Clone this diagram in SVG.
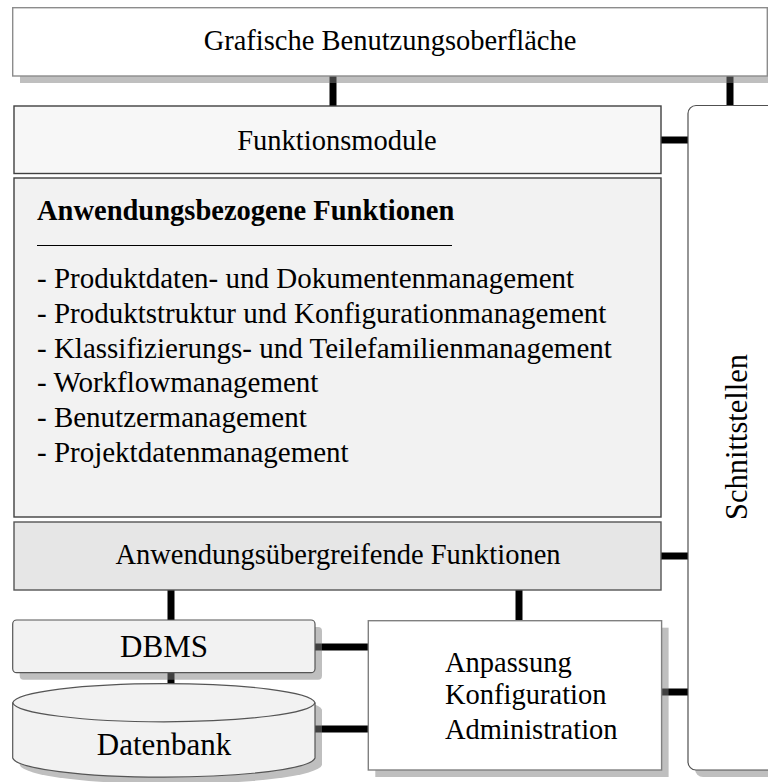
<svg xmlns="http://www.w3.org/2000/svg" width="768" height="782" viewBox="0 0 768 782">
  <style>
    text { font-family: "Liberation Serif", "Times New Roman", serif; font-size: 28.5px; fill: #000; }
    .c { text-anchor: middle; }
    .big { font-size: 31px; }
    .item { font-size: 29px; }
    .bold { font-weight: bold; }
    .shadow { fill: #808080; fill-opacity: 0.5; stroke: none; }
    .conn { stroke: #000; stroke-width: 7; fill: none; }
  </style>

  <rect x="0" y="0" width="768" height="782" fill="#ffffff"/>

  <!-- connectors (drawn first, shadows overlay them) -->
  <g id="connectors">
    <line class="conn" x1="333" y1="76" x2="333" y2="106"/>
    <line class="conn" x1="730" y1="76" x2="730" y2="106"/>
    <line class="conn" x1="661" y1="140" x2="688" y2="140"/>
    <line class="conn" x1="661" y1="556" x2="688" y2="556"/>
    <line class="conn" x1="171" y1="590" x2="171" y2="620"/>
    <line class="conn" x1="171" y1="672" x2="171" y2="684"/>
    <line class="conn" x1="519" y1="590" x2="519" y2="621"/>
    <line class="conn" x1="315" y1="647" x2="368" y2="647"/>
    <line class="conn" x1="315" y1="729" x2="368" y2="729"/>
    <line class="conn" x1="661" y1="692" x2="688" y2="692"/>
  </g>

  <!-- top layer: GUI -->
  <g id="gui">
    <rect class="shadow" x="20" y="76" width="760" height="7"/>
    <rect x="12.7" y="7.7" width="754.6" height="68.3" fill="#ffffff" stroke="#8c8c8c" stroke-width="1.4"/>
    <text class="c" x="390" y="50">Grafische Benutzungsoberfläche</text>
  </g>

  <!-- interfaces column -->
  <g id="schnittstellen">
    <rect class="shadow" x="695" y="112.5" width="100" height="664.5" rx="8"/>
    <rect x="688" y="105.5" width="100" height="664.5" rx="8" fill="#ffffff" stroke="#505050" stroke-width="1.2"/>
    <text class="c" style="font-size:30.5px" transform="translate(747,437) rotate(-90)">Schnittstellen</text>
  </g>

  <!-- function modules -->
  <g id="funktionsmodule">
    <rect x="14" y="106" width="647" height="67.5" fill="#f7f7f7" stroke="#404040" stroke-width="1.4"/>
    <text class="c" x="337" y="150">Funktionsmodule</text>
  </g>

  <g id="anwendungsbezogen">
    <rect x="14" y="178" width="647" height="339" fill="#f2f2f2" stroke="#404040" stroke-width="1.4"/>
    <text class="bold" x="37" y="220">Anwendungsbezogene Funktionen</text>
    <line x1="37" y1="245.5" x2="452" y2="245.5" stroke="#000" stroke-width="1"/>
    <text class="item" x="37" y="288">- Produktdaten- und Dokumentenmanagement</text>
    <text class="item" x="37" y="323">- Produktstruktur und Konfigurationmanagement</text>
    <text class="item" x="37" y="358">- Klassifizierungs- und Teilefamilienmanagement</text>
    <text class="item" x="37" y="392">- Workflowmanagement</text>
    <text class="item" x="37" y="427">- Benutzermanagement</text>
    <text class="item" x="37" y="462">- Projektdatenmanagement</text>
  </g>

  <g id="anwendungsuebergreifend">
    <rect x="14" y="522" width="647" height="68" fill="#e6e6e6" stroke="#555555" stroke-width="1.4"/>
    <text class="c" x="338" y="564">Anwendungsübergreifende Funktionen</text>
  </g>

  <!-- database management system -->
  <g id="dbms">
    <rect class="shadow" x="19.7" y="627" width="302.3" height="52.7" rx="4"/>
    <rect x="12.7" y="620" width="302.3" height="52.7" rx="4" fill="#f2f2f2" stroke="#555555" stroke-width="1.2"/>
    <text class="c big" x="164" y="657">DBMS</text>
  </g>

  <!-- database cylinder -->
  <g id="datenbank">
    <path class="shadow" d="M19.7,709.7 A151.3,20 0 0,1 322,709.7 V765 A151.3,20 0 0,1 19.7,765 Z"/>
    <path d="M12.7,702.7 A151.3,20 0 0,1 315,702.7 V758 A151.3,20 0 0,1 12.7,758 Z" fill="#f2f2f2" stroke="#555555" stroke-width="1.2"/>
    <path d="M12.7,702.7 A151.3,20 0 0,0 315,702.7" fill="none" stroke="#555555" stroke-width="1.2"/>
    <text class="c big" x="164" y="755">Datenbank</text>
  </g>

  <!-- administration box -->
  <g id="anpassung">
    <rect class="shadow" x="375.3" y="627.7" width="293.3" height="149.3"/>
    <rect x="368.3" y="620.7" width="293.3" height="149.3" fill="#ffffff" stroke="#808080" stroke-width="1.4"/>
    <text x="445" y="672">Anpassung</text>
    <text x="445" y="704">Konfiguration</text>
    <text x="445" y="739">Administration</text>
  </g>
</svg>
